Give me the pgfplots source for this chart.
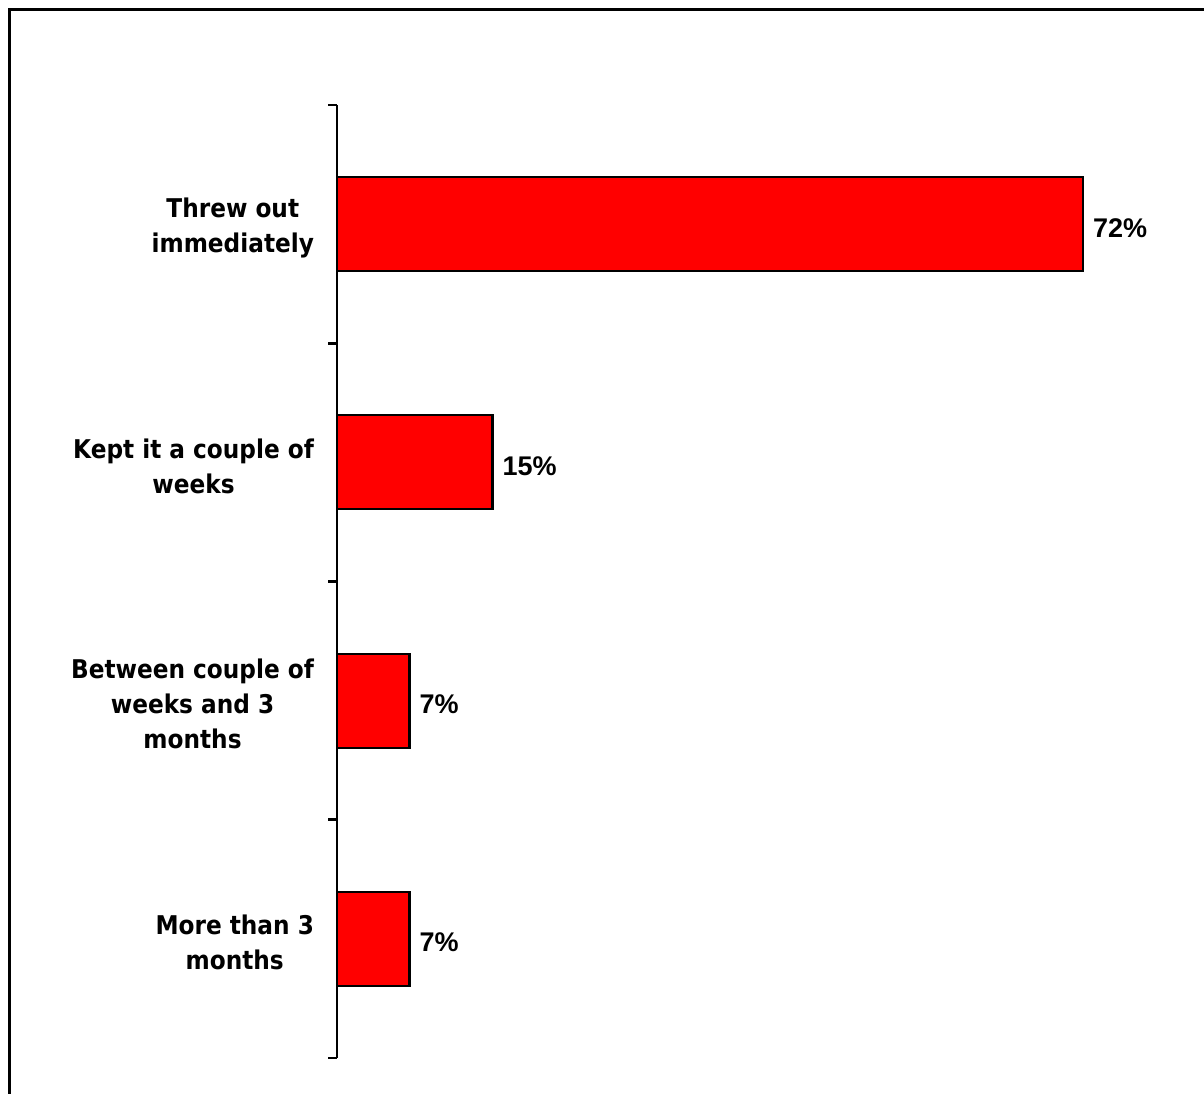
\documentclass[border=0pt]{standalone}
\usepackage{pgfplots}
\pgfplotsset{compat=1.18}
\usepackage{fontspec}
\setmainfont{Liberation Sans}
\newfontfamily\catfont{DejaVu Sans}[FakeStretch=0.9]
\newfontfamily\valfont{Liberation Sans}
\begin{document}
\begin{tikzpicture}
\path[use as bounding box] (0,0) rectangle (602pt,-546.5pt);
\draw[line width=1.4pt] (4.6pt,-560pt) -- (4.6pt,-4.6pt) -- (620pt,-4.6pt);
\begin{axis}[
  at={(168.5pt,-52.5pt)}, anchor=north west,
  scale only axis, width=414.5pt, height=476.5pt,
  xmin=0, xmax=80,
  ymin=-0.5, ymax=3.5, y dir=reverse,
  axis y line=left, axis x line=none,
  axis line style={line width=1.2pt, -},
  ytick={0,1,2,3},
  yticklabels={{Threw out\\immediately},{Kept it a couple of\\weeks},{Between couple of\\weeks and 3\\months},{More than 3\\months}},
  minor ytick={-0.5,0.5,1.5,2.5,3.5},
  major tick length=0pt, minor tick length=4.5pt,
  tick align=outside,
  minor tick style={line width=1.3pt, black},
  yticklabel style={align=center, font=\catfont\bfseries\fontsize{12.9}{17.5}\selectfont, xshift=-8pt, yshift=-1.8pt},
  xbar, bar width=47pt,
  nodes near coords={\pgfmathprintnumber[assume math mode=true]{\pgfplotspointmeta}\%},
  nodes near coords style={anchor=west, inner sep=0pt, xshift=4.5pt, yshift=-1.8pt, font=\valfont\bfseries\fontsize{13.5}{16}\selectfont},
  point meta=x,
  clip=false,
]
\addplot[fill={rgb,255:red,255;green,0;blue,0}, draw=black, line width=1.1pt]
  coordinates {(72,0) (15,1) (7,2) (7,3)};
\end{axis}
\end{tikzpicture}
\end{document}
